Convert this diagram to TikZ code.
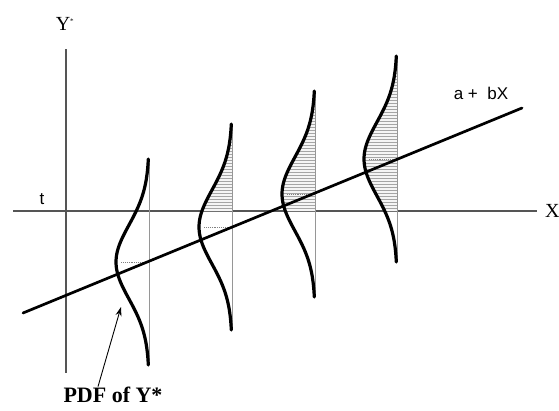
\documentclass[tikz,border=0pt]{standalone}
\usepackage{fontspec}
\setmainfont{Liberation Serif}
\newfontfamily\arialfont{Liberation Sans}
\usetikzlibrary{patterns,arrows.meta,positioning}

\begin{document}
\begin{tikzpicture}[x=1pt,y=-1pt]
		% Couleurs
		\definecolor{cAxe}{RGB}{85,85,85}
		\definecolor{cBase}{RGB}{150,150,150}
		\definecolor{cHachure}{RGB}{165,165,165}
		\tikzset{
			axe/.style={cAxe, line width=1.1pt},
			base/.style={cBase, line width=0.8pt},
			densite/.style={black, line width=3.2pt, line cap=round, line join=round},
			droite/.style={black, line width=2.7pt, line cap=round},
			moyenne/.style={densely dotted, gray, line width=0.9pt},
			hachure/.style={preaction={fill=gray!8}, pattern=horizontal lines, pattern color=cHachure}
		}
		\useasboundingbox (0,0) rectangle (559,410);
		
		% Parametres des densites
		\def\ty{211}
		\def\sd{37}
		\def\amp{33}
		\def\half{103}
		
		% Axes
		\coordinate (yA) at (66,49);
		\coordinate (yB) at (66,373);
		\coordinate (xA) at (13,\ty);
		\coordinate (xB) at (537,\ty);
		\draw[axe] (yA) -- (yB);
		\draw[axe] (xA) -- (xB);
		\node[font=\fontsize{20}{22}\selectfont] (ylab) at (65,24) {Y\textsuperscript{\scriptsize *}};
		\node[font=\arialfont\fontsize{17}{19}\selectfont] (tlab) at (42,199) {t};
		\node[anchor=west, inner sep=0pt, font=\fontsize{20}{22}\selectfont] (xlab) at (545,\ty) {X};
		
		% Densites de Y* : base x / moyenne y
		\foreach \i/\bx/\my in {1/149/262, 2/232/227, 3/315/194, 4/397/159}{
			\pgfmathsetmacro{\dlim}{\ty-\my}
			\coordinate (h\i) at (\bx,\my-\half);
			\coordinate (b\i) at (\bx,\my+\half);
			\coordinate (m\i) at (\bx,\my);
			\coordinate (p\i) at (\bx-\amp,\my);
			% partie au-dessus du seuil t
			\ifnum\i>1
			\fill[hachure] plot[domain=-\half:\dlim, samples=50, smooth]
			({\bx-\amp*exp(-(\x*\x)/(2*\sd*\sd))}, {\my+\x})
			-- (\bx,\ty) -- (h\i) -- cycle;
			\fi
			\draw[base] (h\i) -- (b\i);
			\draw[moyenne] ([xshift=5pt]p\i) -- (m\i);
			\draw[densite] plot[domain=-\half:\half, samples=70, smooth]
			({\bx-\amp*exp(-(\x*\x)/(2*\sd*\sd))}, {\my+\x});
		}
		
		% Droite de regression
		\coordinate (rA) at (23,313);
		\coordinate (rB) at (522,108);
		\draw[droite] (rA) -- (rB);
		\node[font=\arialfont\fontsize{17}{19}\selectfont] (rlab) at (481,93) {a +\ \ bX};
		
		% Legende
		\node[font=\bfseries\fontsize{22}{24}\selectfont] (pdf) at (113,395) {PDF of Y*};
		\coordinate (fleche) at (121,307);
		\draw[-{Stealth[length=9pt,width=6pt]}, line width=0.9pt] ([xshift=-15pt,yshift=-3pt]pdf.north) -- (fleche);
	\end{tikzpicture}
\end{document}
